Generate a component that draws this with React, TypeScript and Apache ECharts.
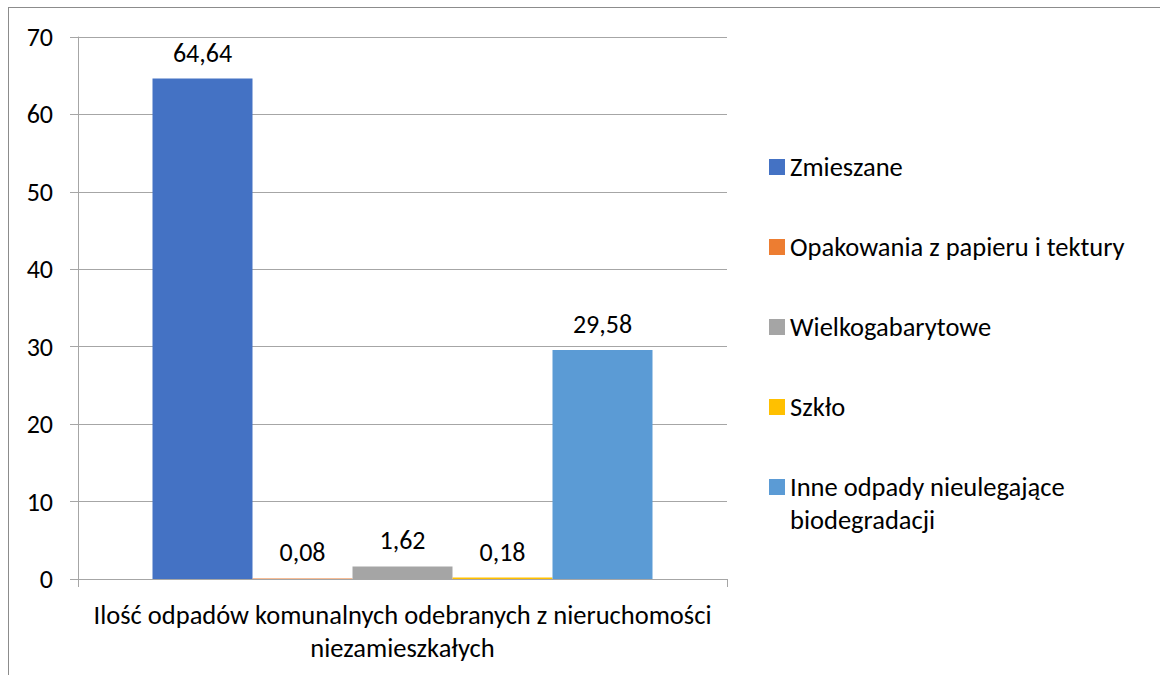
import React, { useEffect, useRef } from "react";
import * as echarts from "echarts";

const categories = ["Ilość odpadów komunalnych odebranych z nieruchomości\nniezamieszkałych"];
const seriesNames = [
  "Zmieszane",
  "Opakowania z papieru i tektury",
  "Wielkogabarytowe",
  "Szkło",
  "Inne odpady nieulegające biodegradacji",
];
const legendFirstLines = [
  "Zmieszane",
  "Opakowania z papieru i tektury",
  "Wielkogabarytowe",
  "Szkło",
  "Inne odpady nieulegające",
];
const legendSecondLine = "biodegradacji";
const seriesValues = [64.64, 0.08, 1.62, 0.18, 29.58];
const seriesColors = ["#4472C4", "#ED7D31", "#A5A5A5", "#FFC000", "#5B9BD5"];
const yTicks = { min: 0, max: 70, interval: 10 };

const FONT = "Carlito, Lato, sans-serif";
const AXIS_COLOR = "#a6a6a6";

export default function App() {
  const ref = useRef<HTMLDivElement>(null);
  useEffect(() => {
    if (!ref.current) return;
    const chart = echarts.init(ref.current, undefined, { renderer: "svg" });
    chart.setOption({
      animation: false,
      textStyle: { fontFamily: FONT },
      grid: { left: 69, top: 29, width: 649, height: 542, containLabel: false },
      legend: {
        orient: "vertical",
        left: 760,
        top: 144,
        padding: 0,
        itemWidth: 16,
        itemHeight: 16,
        itemGap: 50,
        icon: "rect",
        textStyle: { fontSize: 26.5, lineHeight: 30, color: "#000", fontFamily: FONT },
        formatter: (name: string) => legendFirstLines[seriesNames.indexOf(name)] ?? name,
        data: seriesNames,
      },
      graphic: [
        {
          type: "text",
          left: 781,
          top: 497,
          silent: true,
          style: {
            text: legendSecondLine,
            fontSize: 26.5,
            lineHeight: 30,
            fill: "#000",
            fontFamily: FONT,
          },
        },
      ],
      xAxis: {
        type: "category",
        data: categories,
        axisLine: { lineStyle: { color: AXIS_COLOR } },
        axisTick: { show: true, length: 8, lineStyle: { color: AXIS_COLOR } },
        axisLabel: {
          fontSize: 26.5,
          lineHeight: 33,
          margin: 19,
          color: "#000",
          fontFamily: FONT,
        },
      },
      yAxis: {
        type: "value",
        min: yTicks.min,
        max: yTicks.max,
        interval: yTicks.interval,
        axisLine: { show: true, lineStyle: { color: AXIS_COLOR } },
        axisTick: { show: true, length: 8, lineStyle: { color: AXIS_COLOR } },
        splitLine: { lineStyle: { color: AXIS_COLOR } },
        axisLabel: { fontSize: 26, margin: 25, color: "#000", fontFamily: FONT },
      },
      series: seriesNames.map((n, i) => ({
        name: n,
        type: "bar",
        barWidth: 100,
        barGap: "0%",
        itemStyle: { color: seriesColors[i] },
        data: [seriesValues[i]],
        label: {
          show: true,
          position: "top",
          distance: 13,
          fontSize: 26,
          lineHeight: 26,
          color: "#000",
          fontFamily: FONT,
          formatter: (p: any) => String(p.value).replace(".", ","),
        },
      })),
    });
    return () => chart.dispose();
  }, []);
  return (
    <div
      style={{
        position: "fixed",
        left: 8,
        top: 7,
        borderTop: "1px solid #8c8c8c",
        borderLeft: "1px solid #8c8c8c",
        background: "#fff",
      }}
    >
      <div ref={ref} style={{ width: 1151, height: 667 }} />
    </div>
  );
}
